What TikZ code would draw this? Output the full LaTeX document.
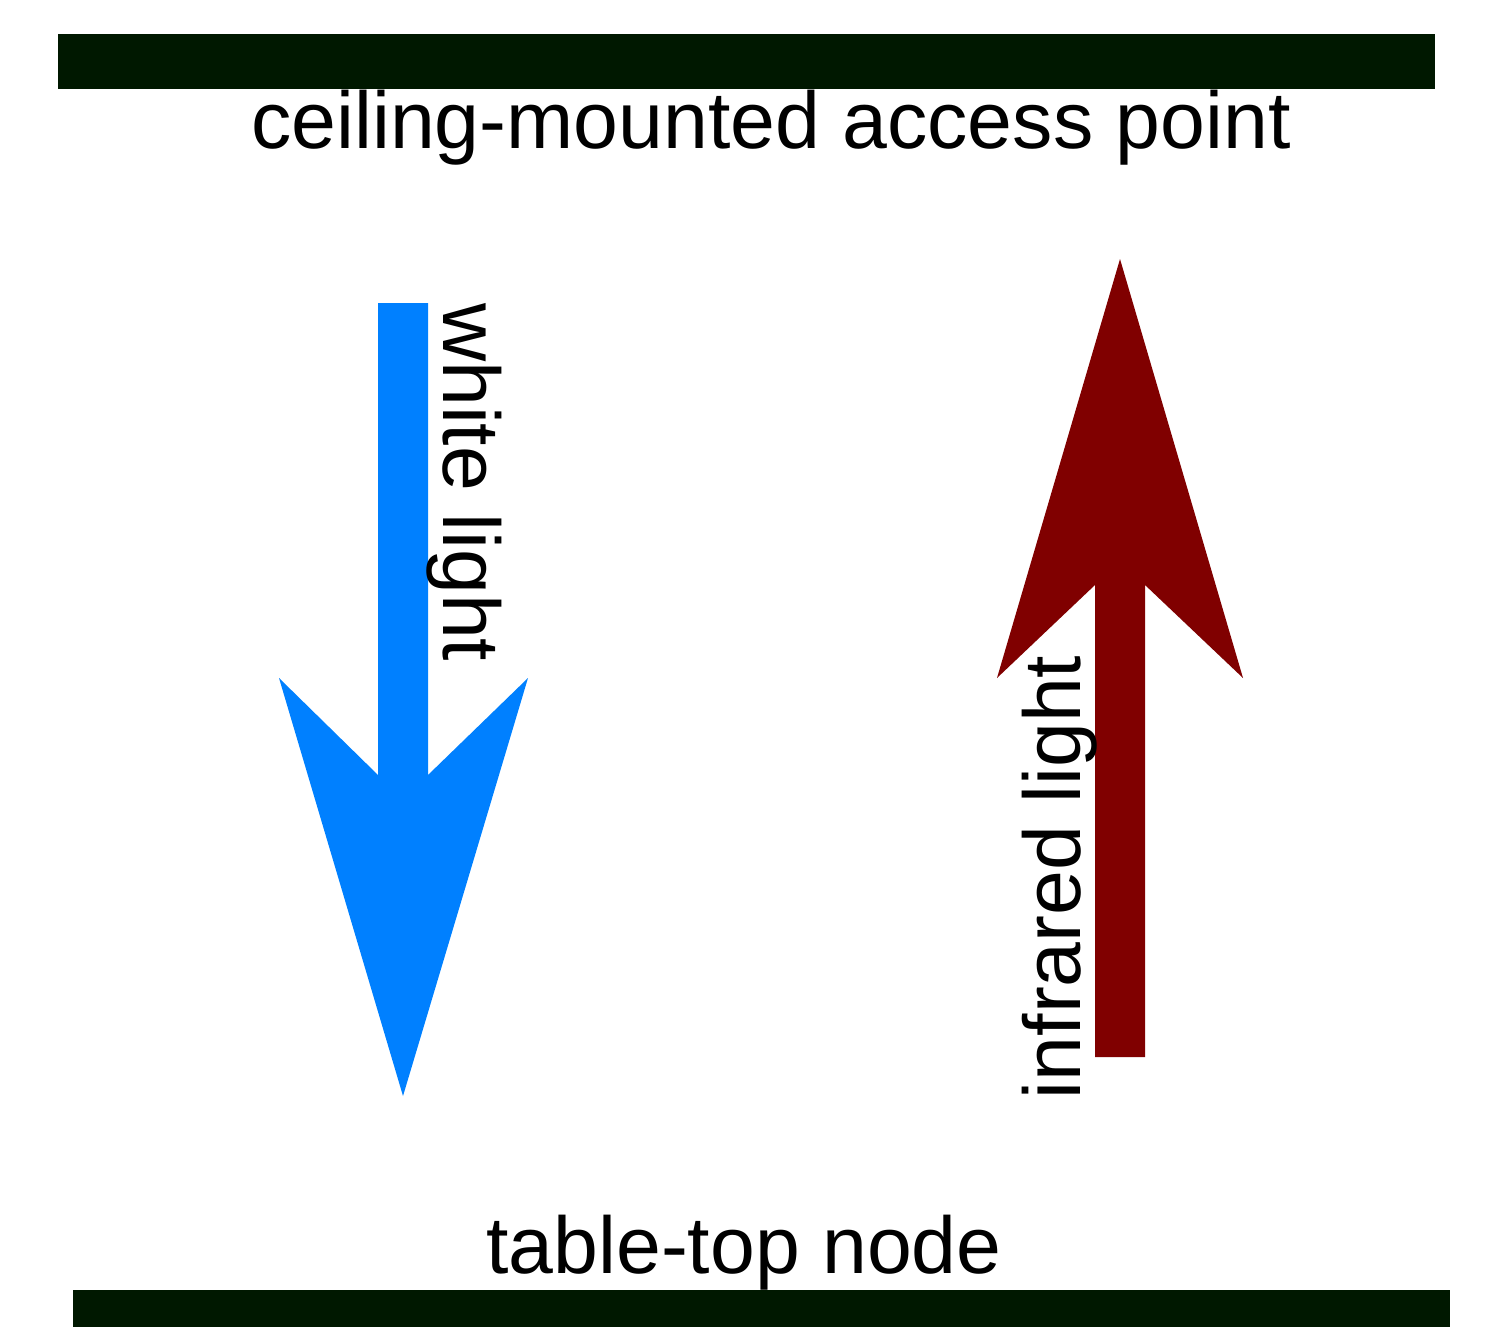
\documentclass[tikz,border=0pt]{standalone}
\usepackage{fontspec}
\setmainfont{Liberation Sans}
\definecolor{bardark}{HTML}{001800}
\definecolor{whiteblue}{HTML}{0080FF}
\definecolor{irred}{HTML}{800000}
\begin{document}
\begin{tikzpicture}[x=1pt,y=-1pt,
  bar/.style={fill=bardark,draw=none},
  lbl/.style={inner sep=0pt,outer sep=0pt,font=\fontsize{80.6}{90}\selectfont}]
\useasboundingbox (0,0) rectangle (1488,1327);
% labels
\node[lbl,anchor=base] (ap) at (771,148) {ceiling-mounted access point};
\node[lbl,anchor=base] (tn) at (744,1273) {table-top node};
% bars
\fill[bar] (58,34) rectangle (1435,89);
\fill[bar] (73,1290) rectangle (1450,1327);
% white light arrow (down)
\fill[whiteblue] (378,303) -- (428,303) -- (428,775) -- (528,678) -- (403,1096)
  -- (279,678) -- (378,775) -- cycle;
% infrared arrow (up)
\fill[irred] (1095,1057) -- (1145,1057) -- (1145,585) -- (1243,678) -- (1120,259)
  -- (997,678) -- (1095,585) -- cycle;
% arrow labels
\node[lbl,anchor=base west,rotate=-90] (wl) at (443,303) {white light};
\node[lbl,anchor=base west,rotate=90] (ir) at (1080,1099) {infrared light};
\end{tikzpicture}
\end{document}
